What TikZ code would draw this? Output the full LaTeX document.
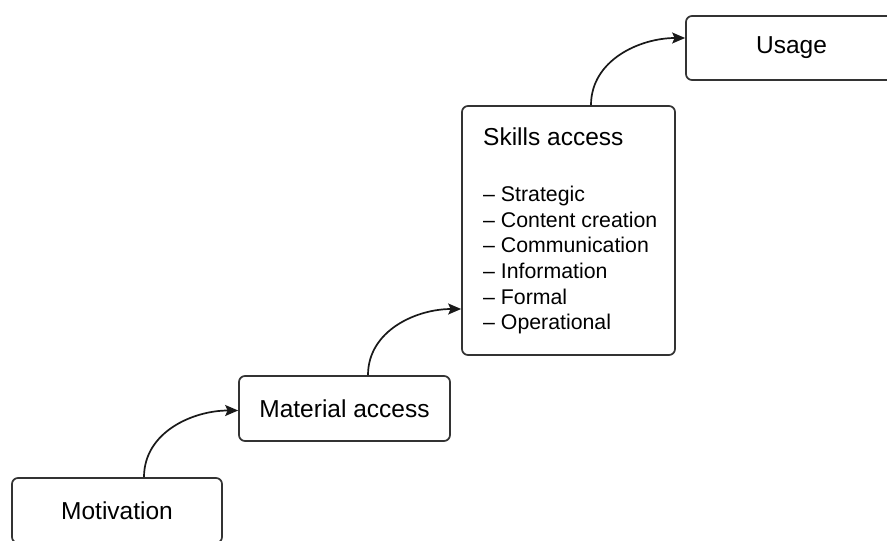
\documentclass[tikz,border=0pt]{standalone}
\usepackage{fontspec}
\setmainfont{Liberation Sans}
\usetikzlibrary{arrows.meta}
\begin{document}
\begin{tikzpicture}[x=1pt,y=-1pt,
  box/.style={draw=black!80, line width=1.7pt, rounded corners=6pt, fill=white, inner sep=0pt,
    font=\fontsize{24.5}{29}\selectfont},
  conn/.style={draw=black!90, line width=1.7pt, -{Stealth[length=13pt,width=11pt,inset=2.5pt]}},
  title/.style={anchor=base west, inner sep=0pt, font=\fontsize{24.5}{29}\selectfont},
  item/.style={anchor=base west, inner sep=0pt, font=\fontsize{21.3}{25.6}\selectfont}]
\clip (0,0) rectangle (887,541);
\fill[white] (0,0) rectangle (887,541);
\node[box, minimum width=210pt, minimum height=65pt] (mot) at (117,510.5) {Motivation};
\node[box, minimum width=211pt, minimum height=65pt] (mat) at (344.5,408.5) {Material access};
\node[box, minimum width=213pt, minimum height=249pt] (sk) at (568.5,230.5) {};
\node[box, minimum width=211pt, minimum height=64pt] (us) at (791.5,48) {Usage};
\node[title] (skt) at (483,145.8) {Skills access};
\node[item] (l1) at (483,201.6) {\textendash{} Strategic};
\node[item] (l2) at (483,227.2) {\textendash{} Content creation};
\node[item] (l3) at (483,252.8) {\textendash{} Communication};
\node[item] (l4) at (483,278.4) {\textendash{} Information};
\node[item] (l5) at (483,304.0) {\textendash{} Formal};
\node[item] (l6) at (483,329.6) {\textendash{} Operational};
\draw[conn] ([xshift=27pt]mot.north) to[out=90,in=180] ([yshift=-2pt]mat.west);
\draw[conn] ([xshift=23.5pt]mat.north) to[out=90,in=180] ([yshift=-78.5pt]sk.west);
\draw[conn] ([xshift=22.5pt]sk.north) to[out=90,in=180] ([yshift=10pt]us.west);
\end{tikzpicture}
\end{document}
